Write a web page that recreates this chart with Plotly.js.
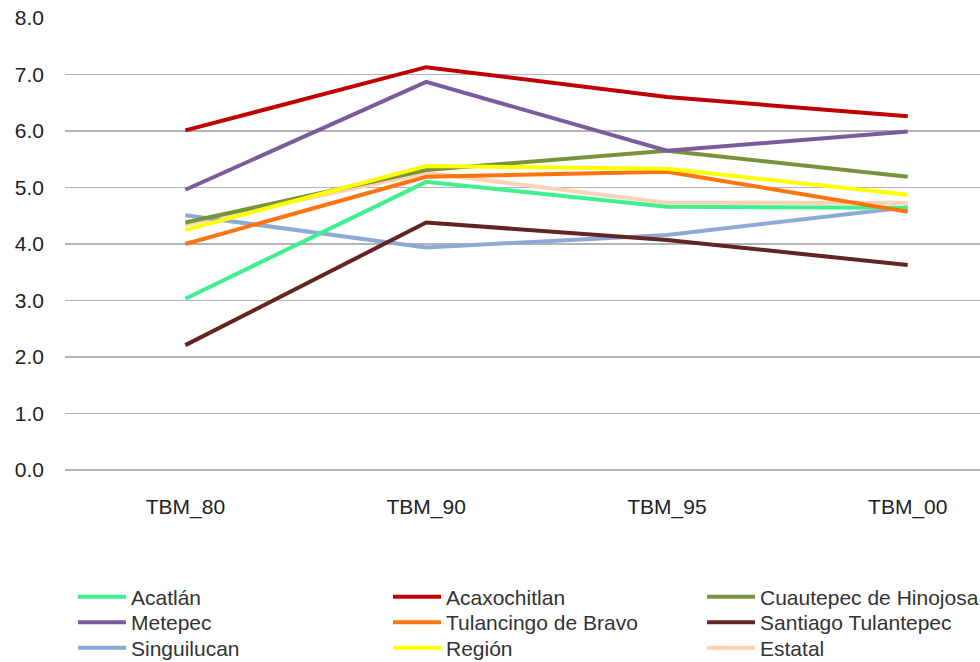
<!DOCTYPE html>
<html>
<head>
<meta charset="utf-8">
<script src="https://cdn.plot.ly/plotly-3.0.1.min.js"></script>
<style>html,body{margin:0;padding:0;overflow:hidden;background:#fff;}</style>
</head>
<body>
<div id="chart" style="width:980px;height:662px;"></div>
<script>
const categories = ["TBM_80", "TBM_90", "TBM_95", "TBM_00"];
const seriesNames = ["Acatlán", "Acaxochitlan", "Cuautepec de Hinojosa", "Metepec", "Tulancingo de Bravo", "Santiago Tulantepec", "Singuilucan", "Región", "Estatal"];
const acatlan = [3.03, 5.10, 4.66, 4.64];
const acaxochitlan = [6.01, 7.13, 6.60, 6.26];
const cuautepec = [4.38, 5.31, 5.65, 5.19];
const metepec = [4.96, 6.87, 5.65, 5.99];
const tulancingo = [4.00, 5.19, 5.28, 4.57];
const santiago = [2.21, 4.38, 4.07, 3.63];
const singuilucan = [4.51, 3.94, 4.16, 4.65];
const region = [4.25, 5.38, 5.33, 4.87];
const estatal = [4.34, 5.26, 4.73, 4.73];
const seriesValues = [acatlan, acaxochitlan, cuautepec, metepec, tulancingo, santiago, singuilucan, region, estatal];
const colors = ["#3FF08E", "#C00000", "#77933C", "#7A5B9C", "#FF740F", "#632523", "#8EA9D6", "#FFFF00", "#FCD3B4"];

// legend grid (3 columns x 3 rows), positions in paper fractions
const legendColX = [0.0087, 0.353, 0.6962];
const legendRowY = [-0.281, -0.3375, -0.394];

const drawOrder = [8, 6, 0, 4, 2, 7, 5, 3, 1];
const legendKey = i => (i === 0 ? "legend" : "legend" + (i + 1));
const traces = seriesNames.map((n, i) => ({
  type: "scatter", mode: "lines", name: n,
  x: categories, y: seriesValues[i],
  line: {color: colors[i], width: 4},
  legend: legendKey(i),
  hoverinfo: "skip"
}));
const data = drawOrder.map(i => traces[i]);

const layout = {
  width: 980, height: 662,
  margin: {l: 65, r: 0, t: 18, b: 192, autoexpand: false},
  paper_bgcolor: "#fff", plot_bgcolor: "#fff",
  showlegend: true,
  xaxis: {
    type: "category", range: [-0.5, 3.3],
    showgrid: false, zeroline: false, showline: false,
    ticks: "", ticklabelstandoff: 22,
    tickfont: {family: "Liberation Sans", size: 21, color: "#222"}
  },
  yaxis: {
    range: [0, 8], dtick: 1, tickformat: ".1f",
    showgrid: true, gridcolor: "#B3B3B3", gridwidth: 1.3,
    zeroline: true, zerolinecolor: "#B3B3B3", zerolinewidth: 1.3,
    showline: false, ticks: "", ticklabelstandoff: 20,
    tickfont: {family: "Liberation Sans", size: 21, color: "#222"}
  }
};
seriesNames.forEach((n, i) => {
  layout[legendKey(i)] = {
    orientation: "v",
    x: legendColX[i % 3], xanchor: "left",
    y: legendRowY[Math.floor(i / 3)], yanchor: "middle",
    itemwidth: 48,
    font: {family: "Liberation Sans", size: 21, color: "#333"},
    bgcolor: "rgba(0,0,0,0)", borderwidth: 0
  };
});
Plotly.newPlot("chart", data, layout, {displayModeBar: false, staticPlot: true});
</script>
</body>
</html>
